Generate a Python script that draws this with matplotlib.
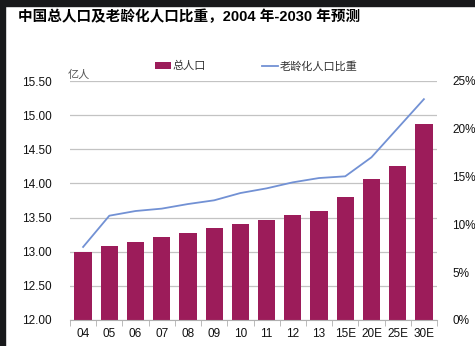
import matplotlib
matplotlib.use("Agg")
import matplotlib.pyplot as plt
from matplotlib.patches import Rectangle, Patch
from matplotlib.lines import Line2D
from matplotlib.ticker import FuncFormatter, MultipleLocator
import numpy as np

plt.rcParams["font.family"] = ["Liberation Sans", "Noto Sans CJK SC"]

years = ["04", "05", "06", "07", "08", "09", "10", "11", "12", "13", "15E", "20E", "25E", "30E"]
population = [13.00, 13.08, 13.14, 13.21, 13.28, 13.35, 13.40, 13.47, 13.54, 13.60, 13.80, 14.06, 14.25, 14.87]
aging_ratio = [0.0764, 0.1091, 0.1140, 0.1165, 0.1213, 0.1252, 0.1328, 0.1377, 0.1440, 0.1485, 0.1503, 0.1702, 0.2006, 0.2310]

bar_colour = "#9c1c5a"
line_colour = "#7291d4"
grid_colour = "#c3c3c3"

W, H = 475, 346
fig = plt.figure(figsize=(W / 100, H / 100), dpi=100)
fig.patch.set_facecolor("white")

# dark frame on the top and left edges
fig.patches.append(Rectangle((0, 1 - 6 / H), 1, 6 / H, transform=fig.transFigure,
                             color="#18191b", zorder=0))
fig.patches.append(Rectangle((0, 0), 4.5 / W, 1, transform=fig.transFigure,
                             color="#18191b", zorder=0))

ax = fig.add_axes([70 / W, (H - 320) / H, (437 - 70) / W, (320 - 81) / H])
x = np.arange(len(years))
ax.bar(x, population, width=0.66, color=bar_colour, zorder=2)
ax.set_xlim(-0.5, len(years) - 0.5)
ax.set_ylim(12.0, 15.5)
ax.yaxis.set_major_locator(MultipleLocator(0.5))
ax.yaxis.set_major_formatter(FuncFormatter(lambda v, _: f"{v:.2f}"))
ax.grid(axis="y", color=grid_colour, lw=0.9, zorder=0)
ax.set_axisbelow(True)
for side in ["top", "left", "right"]:
    ax.spines[side].set_visible(False)
ax.spines["bottom"].set_color("#b0b0b0")
ax.set_xticks(x)
ax.set_xticklabels(years)
ax.set_xticks(np.arange(-0.5, len(years), 1.0), minor=True)
ax.tick_params(axis="x", which="major", length=0, pad=6, labelsize=8.5, colors="#111111")
ax.tick_params(axis="x", which="minor", length=4, color="#b0b0b0")
ax.tick_params(axis="y", length=0, pad=13, labelsize=8.5, colors="#111111")

ax2 = ax.twinx()
ax2.plot(x, aging_ratio, color=line_colour, lw=1.3, zorder=3)
ax2.set_ylim(0, 0.25)
ax2.yaxis.set_major_locator(MultipleLocator(0.05))
ax2.yaxis.set_major_formatter(FuncFormatter(lambda v, _: f"{v * 100:.0f}%"))
for side in ["top", "left", "right", "bottom"]:
    ax2.spines[side].set_visible(False)
ax2.tick_params(axis="y", length=0, pad=11, labelsize=8.5, colors="#111111")

fig.text(18 / W, 1 - 10 / H, "中国总人口及老龄化人口比重，2004 年-2030 年预测",
         fontsize=10.5, fontweight="bold", ha="left", va="top", color="black")
fig.text(68 / W, 1 - 80 / H, "亿人", fontsize=8, color="#555555", ha="left", va="bottom")

handles = [Patch(facecolor=bar_colour), Line2D([], [], color=line_colour, lw=1.3)]
fig.legend(handles, ["总人口", "老龄化人口比重"], loc="center",
           bbox_to_anchor=(256 / W, 1 - 66 / H), ncol=2, frameon=False,
           fontsize=8, handlelength=1.5, handleheight=0.6, handletextpad=0.1,
           columnspacing=5.0, labelcolor="#333333")

fig.savefig("out.png", dpi=100)
